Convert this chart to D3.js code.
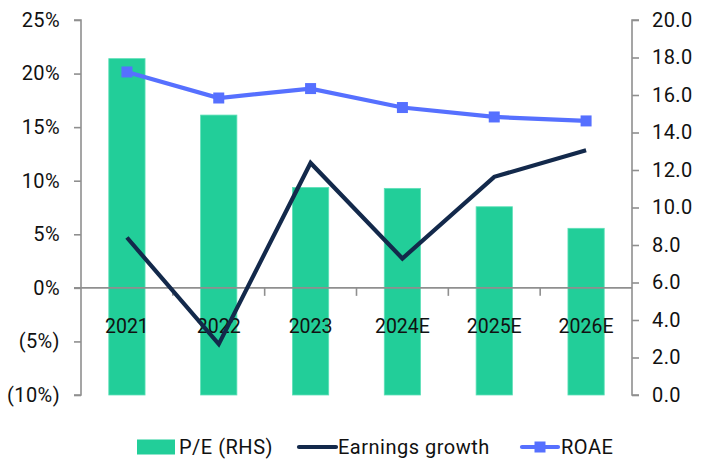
<!DOCTYPE html>
<html>
<head>
<meta charset="utf-8">
<script src="https://cdn.jsdelivr.net/npm/d3@7"></script>
<style>
  body { margin: 0; background: #fff; }
  svg text { font-family: Roboto, "Noto Sans", sans-serif; fill: #111; }
  .tick-label { font-size: 20px; letter-spacing: 0.4px; }
  .cat-label { font-size: 19.5px; }
  .legend text { font-size: 20px; letter-spacing: 0.5px; }
</style>
</head>
<body>
<svg class="chart" width="710" height="459"></svg>
<script>
const years = ['2021', '2022', '2023', '2024E', '2025E', '2026E'];
const pe = [17.94, 14.93, 11.07, 11.02, 10.04, 8.89];           // right axis
const earningsGrowth = [4.7, -5.25, 11.66, 2.74, 10.36, 12.84]; // left axis, %
const roae = [20.15, 17.72, 18.6, 16.83, 15.95, 15.58];          // left axis, %
const leftTicks = [25, 20, 15, 10, 5, 0, -5, -10];
const rightTicks = [20, 18, 16, 14, 12, 10, 8, 6, 4, 2, 0];

const plotLeft = 81, plotRight = 632, plotTop = 20, plotBottom = 395;
const barColor = '#22ce99';
const growthColor = '#13294b';
const roaeColor = '#5670ff';
const axisColor = '#8f8f8f';

const svg = d3.select('svg.chart');

const x = d3.scaleBand()
    .domain(years)
    .range([plotLeft, plotRight])
    .paddingInner(0.605)
    .paddingOuter(0.3025);

const xCat = d3.scaleBand().domain(years).range([plotLeft, plotRight]);

const yLeft = d3.scaleLinear().domain([-10, 25]).range([plotBottom, plotTop]);
const yRight = d3.scaleLinear().domain([0, 20]).range([plotBottom, plotTop]);

const fmtPct = v => v < 0 ? `(${Math.abs(v)}%)` : `${v}%`;

// bars
svg.append('g')
    .selectAll('rect')
    .data(years)
    .join('rect')
    .attr('x', d => x(d))
    .attr('width', x.bandwidth())
    .attr('y', (d, i) => yRight(pe[i]))
    .attr('height', (d, i) => yRight(0) - yRight(pe[i]))
    .attr('fill', barColor)
    .attr('stroke', '#5fe0b8')
    .attr('stroke-width', 0.8);

// left axis
const leftAxis = svg.append('g')
    .attr('transform', `translate(${plotLeft},0)`)
    .call(d3.axisLeft(yLeft).tickValues(leftTicks).tickSize(7).tickPadding(14).tickFormat(fmtPct));

// right axis
const rightAxis = svg.append('g')
    .attr('transform', `translate(${plotRight},0)`)
    .call(d3.axisRight(yRight).tickValues(rightTicks).tickSize(7).tickPadding(13).tickFormat(d3.format('.1f')));

[leftAxis, rightAxis].forEach(g => {
    g.select('.domain').attr('stroke', axisColor).attr('stroke-width', 1.6);
    g.selectAll('.tick line').attr('stroke', axisColor).attr('stroke-width', 1.6);
    g.selectAll('.tick text').attr('class', 'tick-label').attr('fill', '#111');
    g.attr('font-family', null).attr('font-size', null);
});
leftAxis.select('.domain').attr('d', `M-7,${plotTop}H0V${plotBottom}H-7`);
rightAxis.select('.domain').attr('d', `M7,${plotTop}H0V${plotBottom}H7`);

// category axis on 0%
const zeroY = yLeft(0);
const catAxis = svg.append('g');
catAxis.append('line')
    .attr('x1', plotLeft - 7).attr('x2', plotRight)
    .attr('y1', zeroY).attr('y2', zeroY)
    .attr('stroke', axisColor).attr('stroke-width', 1.6);
catAxis.selectAll('line.cat-tick')
    .data(years.slice(1))
    .join('line')
    .attr('class', 'cat-tick')
    .attr('x1', d => xCat(d)).attr('x2', d => xCat(d))
    .attr('y1', zeroY).attr('y2', zeroY + 8)
    .attr('stroke', axisColor).attr('stroke-width', 1.6);
catAxis.selectAll('text')
    .data(years)
    .join('text')
    .attr('class', 'cat-label')
    .attr('x', d => xCat(d) + xCat.bandwidth() / 2)
    .attr('y', 333)
    .attr('text-anchor', 'middle')
    .text(d => d);

const cx = d => xCat(d) + xCat.bandwidth() / 2;

// earnings growth line
svg.append('path')
    .datum(years)
    .attr('fill', 'none')
    .attr('stroke', growthColor)
    .attr('stroke-width', 4.2)
    .attr('stroke-linejoin', 'miter')
    .attr('d', d3.line().x(cx).y((d, i) => yLeft(earningsGrowth[i])));

// ROAE line + markers
svg.append('path')
    .datum(years)
    .attr('fill', 'none')
    .attr('stroke', roaeColor)
    .attr('stroke-width', 4.2)
    .attr('d', d3.line().x(cx).y((d, i) => yLeft(roae[i])));

svg.append('g')
    .selectAll('rect')
    .data(years)
    .join('rect')
    .attr('x', d => cx(d) - 5.5)
    .attr('y', (d, i) => yLeft(roae[i]) - 5.5)
    .attr('width', 11)
    .attr('height', 11)
    .attr('fill', roaeColor);

// legend
const legend = svg.append('g').attr('class', 'legend');
const ly = 447;
legend.append('rect')
    .attr('x', 137).attr('y', ly - 7.5).attr('width', 38).attr('height', 15)
    .attr('fill', barColor);
legend.append('text').attr('x', 179).attr('y', ly + 7).text('P/E (RHS)');

legend.append('line')
    .attr('x1', 299).attr('x2', 336).attr('y1', ly).attr('y2', ly)
    .attr('stroke', growthColor).attr('stroke-width', 4.2).attr('stroke-linecap', 'round');
legend.append('text').attr('x', 338).attr('y', ly + 7).text('Earnings growth');

legend.append('line')
    .attr('x1', 522).attr('x2', 558).attr('y1', ly).attr('y2', ly)
    .attr('stroke', roaeColor).attr('stroke-width', 4.2).attr('stroke-linecap', 'round');
legend.append('rect')
    .attr('x', 540 - 5.5).attr('y', ly - 5.5).attr('width', 11).attr('height', 11)
    .attr('fill', roaeColor);
legend.append('text').attr('x', 561).attr('y', ly + 7).text('ROAE');
</script>
</body>
</html>
